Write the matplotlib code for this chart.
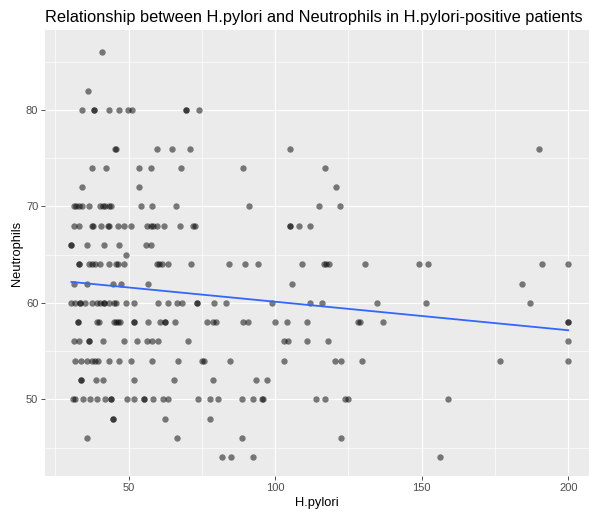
import numpy as np
import matplotlib.pyplot as plt

plt.rcParams['font.family'] = ['Liberation Sans', 'DejaVu Sans']

# H.pylori values, grouped by their Neutrophils level
hp_86 = [41]
hp_82 = [36]
hp_80 = [34.1, 38.1, 38.1, 43.4, 46.8, 49.7, 51.1, 69.5, 69.5, 74.1]
hp_76 = [45.3, 45.8, 59.6, 64.9, 71.1, 105.1, 190.1]
hp_74 = [37.5, 42.4, 53.7, 57.5, 67.9, 89.2, 116.9]
hp_72 = [34.1, 53.7, 120.9]
hp_70 = [31.3, 32.2, 33.0, 34.1, 36.4, 40.4, 41.2, 42.0, 43.2, 44.1, 54.1, 58.0,
         66.1, 91.1, 115.0, 122.3]
hp_68 = [31.3, 33.0, 37.5, 38.0, 40.7, 43.0, 43.4, 46.3, 48.6, 51.0, 56.2, 57.7,
         58.5, 59.6, 62.1, 67.6, 72.1, 72.7, 105.0, 105.2, 108.2, 111.9]
hp_66 = [30.5, 30.5, 35.9, 41.6, 46.6, 55.8, 57.7]
hp_65 = [49.3]
hp_64 = [33.2, 33.2, 36.4, 37.5, 38.4, 40.4, 43.2, 45.7, 46.4, 48.6, 59.6, 60.4,
         61.3, 63.6, 71.3, 84.2, 89.6, 94.0, 109.1, 116.8, 117.3, 118.3, 130.6,
         149.1, 152.3, 191.0, 200.0]
hp_62 = [31.3, 35.9, 44.7, 47.3, 56.8, 105.9, 184.2]
hp_60 = [30.5, 31.6, 33.3, 33.3, 35.3, 37.5, 39.2, 40.4, 41.5, 41.5, 43.2, 44.9,
         45.7, 49.1, 52.0, 60.2, 63.6, 66.4, 68.4, 73.2, 73.2, 79.3, 83.2, 98.8,
         111.9, 115.9, 134.9, 151.6, 187.1]
hp_58 = [32.7, 32.7, 39.2, 40.0, 44.9, 45.7, 46.4, 47.2, 51.7, 51.7, 56.6, 60.8,
         62.5, 62.5, 65.9, 76.6, 78.9, 79.7, 89.1, 90.7, 100.1, 104.2, 111.0,
         128.4, 128.8, 136.9, 200.0, 200.0]
hp_56 = [31.3, 33.2, 36.6, 36.6, 41.3, 48.4, 52.8, 56.2, 57.9, 60.2, 70.4, 103.1,
         104.5, 111.0, 118.2, 200.0]
hp_54 = [31.9, 33.9, 35.8, 37.5, 38.7, 39.6, 43.5, 46.9, 50.9, 57.9, 66.8, 74.9,
         75.9, 84.5, 103.2, 120.3, 122.6, 129.8, 176.8, 200.0]
hp_52 = [33.9, 33.9, 38.9, 41.2, 52.0, 65.5, 78.9, 93.5, 97.4]
hp_50 = [31.0, 31.9, 34.4, 37.0, 39.2, 41.8, 44.1, 44.1, 49.4, 52.0, 55.4, 55.4,
         58.5, 61.9, 63.4, 73.6, 77.8, 80.6, 88.8, 92.6, 95.7, 96.0, 114.0, 116.9,
         124.0, 124.9, 159.0]
hp_48 = [44.6, 44.6, 62.5, 77.9]
hp_46 = [35.9, 66.4, 88.8, 122.5]
hp_44 = [82.0, 84.8, 92.6, 156.2]

levels = [86, 82, 80, 76, 74, 72, 70, 68, 66, 65, 64, 62, 60, 58, 56, 54, 52, 50, 48, 46, 44]
groups = [hp_86, hp_82, hp_80, hp_76, hp_74, hp_72, hp_70, hp_68, hp_66, hp_65, hp_64,
          hp_62, hp_60, hp_58, hp_56, hp_54, hp_52, hp_50, hp_48, hp_46, hp_44]

x = np.concatenate([np.array(g, dtype=float) for g in groups])
y = np.concatenate([np.full(len(g), lv, dtype=float) for g, lv in zip(groups, levels)])

fig = plt.figure(figsize=(5.89, 5.14), dpi=100)
ax = fig.add_axes([45 / 589, 38 / 514, 544 / 589, 446 / 514])
ax.set_facecolor('#EBEBEB')
for s in ax.spines.values():
    s.set_visible(False)

ax.set_xlim(21.5, 207.1)
ax.set_ylim(42.05, 88.3)
ax.set_xticks([50, 100, 150, 200])
ax.set_yticks([50, 60, 70, 80])
ax.set_xticks([25, 75, 125, 175], minor=True)
ax.set_yticks([45, 55, 65, 75, 85], minor=True)
ax.grid(which='major', color='white', linewidth=0.85)
ax.grid(which='minor', color='white', linewidth=0.45)
ax.set_axisbelow(True)
ax.tick_params(which='major', length=2.6, width=0.6, color='#333333',
               labelsize=8, labelcolor='#4D4D4D', pad=2.2)
ax.tick_params(which='minor', length=0)

ax.scatter(x, y, s=21, color='black', alpha=0.5, linewidths=0, zorder=3)

# least squares line, like geom_smooth(method = "lm", se = FALSE)
slope, icpt = np.polyfit(x, y, 1)
xs = np.array([x.min(), x.max()])
ax.plot(xs, icpt + slope * xs, color='#3366FF', linewidth=1.3, zorder=4)

fig.text(45 / 589, 1 - 22 / 514, 'Relationship between H.pylori and Neutrophils in H.pylori-positive patients',
         fontsize=11.8, ha='left', va='baseline', color='black')
fig.text(317 / 589, 1 - 503 / 514, 'H.pylori', fontsize=9.3, ha='center', va='center')
fig.text(17 / 589, 1 - 253 / 514, 'Neutrophils', fontsize=9.3, ha='center', va='center',
         rotation=90)

fig.savefig('out.png', dpi=100)
